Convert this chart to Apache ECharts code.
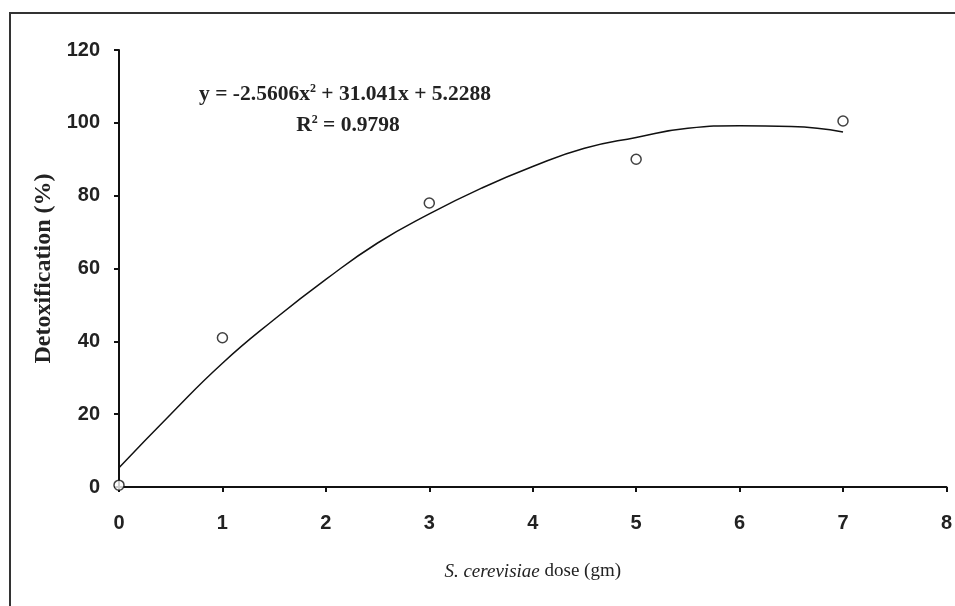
<!DOCTYPE html>
<html><head><meta charset="utf-8">
<script src="https://cdn.jsdelivr.net/npm/echarts@6/dist/echarts.min.js"></script>
<style>html,body{margin:0;padding:0;background:#fff;overflow:hidden}#c{width:955px;height:606px}
#frame{position:absolute;left:9px;top:12px;width:960px;height:620px;border-left:2px solid #333;border-top:2px solid #333;box-sizing:border-box;pointer-events:none}</style>
</head><body><div id="c"></div><div id="frame"></div>
<script>
const doseX = [0, 1, 3, 5, 7];
const detox = [0.5, 41, 78, 90, 100.5];
const trendX = [0, 0.5, 1, 1.5, 2, 2.5, 3, 3.5, 4, 4.5, 5, 5.5, 6, 6.5, 7];
const trendY = [5.3, 20, 34, 46, 57, 67, 75, 82, 88, 93, 96, 98.5, 99.2, 99, 97.5];
const yTicks = [0, 20, 40, 60, 80, 100, 120];
const xTicks = [0, 1, 2, 3, 4, 5, 6, 7, 8];

const chart = echarts.init(document.getElementById('c'));
const tickFont = {fontFamily: 'Liberation Sans Narrow, Liberation Sans, Arial', fontWeight: 'bold', fontSize: 20, color: '#222'};
const supStyle = {fontFamily: 'Liberation Serif', fontWeight: 'bold', fontSize: 12, verticalAlign: 'top', padding: [0, 0, 11, 0], color: '#222'};
chart.setOption({
  animation: false,
  grid: {left: 119, right: 8, top: 50, bottom: 119},
  title: [
    {text: 'y = -2.5606x{s|2} + 31.041x + 5.2288', left: 340, top: 78, textAlign: 'center',
     textStyle: {fontFamily: 'Liberation Serif, Times New Roman', fontWeight: 'bold', fontSize: 21.5, color: '#222', rich: {s: supStyle}}},
    {text: 'R{s|2} = 0.9798', left: 343, top: 109, textAlign: 'center',
     textStyle: {fontFamily: 'Liberation Serif, Times New Roman', fontWeight: 'bold', fontSize: 21.5, color: '#222', rich: {s: supStyle}}}
  ],
  xAxis: {
    type: 'value', min: 0, max: 8, interval: 1,
    name: '{i|S. cerevisiae} dose (gm)', nameLocation: 'middle', nameGap: 75,
    nameTextStyle: {fontFamily: 'Liberation Serif', fontSize: 19, color: '#222',
      rich: {i: {fontFamily: 'Liberation Serif', fontStyle: 'italic', fontSize: 19, color: '#222'}}},
    axisLine: {lineStyle: {color: '#111', width: 2}},
    axisTick: {show: true, length: 5, lineStyle: {color: '#111', width: 2}},
    axisLabel: Object.assign({margin: 26, formatter: v => xTicks.includes(v) ? String(v) : ''}, tickFont),
    splitLine: {show: false}
  },
  yAxis: {
    type: 'value', min: 0, max: 120, interval: 20,
    name: 'Detoxification (%)', nameLocation: 'middle', nameGap: 61, nameRotate: 90,
    nameTextStyle: {fontFamily: 'Liberation Serif', fontWeight: 'bold', fontSize: 24, color: '#222'},
    axisLine: {show: true, lineStyle: {color: '#111', width: 2}},
    axisTick: {show: true, length: 5, lineStyle: {color: '#111', width: 2}},
    axisLabel: Object.assign({margin: 19, formatter: v => yTicks.includes(v) ? String(v) : ''}, tickFont),
    splitLine: {show: false}
  },
  series: [
    {type: 'line', data: trendX.map((x, i) => [x, trendY[i]]), smooth: true, showSymbol: false,
     lineStyle: {color: '#111', width: 1.5}, z: 2},
    {type: 'scatter', data: doseX.map((x, i) => [x, detox[i]]), symbol: 'circle', symbolSize: 10,
     itemStyle: {color: '#fff', borderColor: '#111', borderWidth: 1.5}, z: 3}
  ]
});
</script></body></html>
